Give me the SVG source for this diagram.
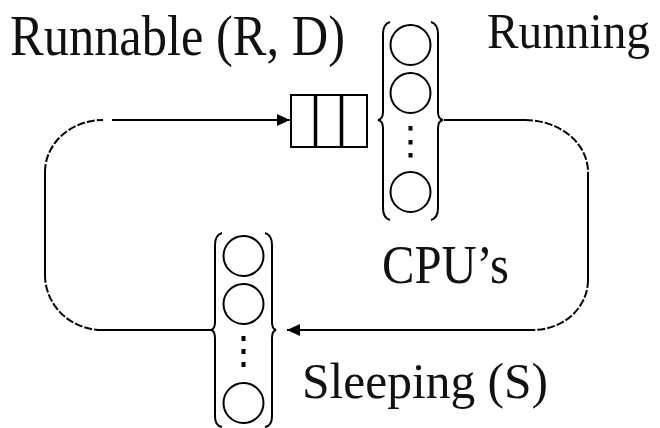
<svg xmlns="http://www.w3.org/2000/svg" width="660" height="428" viewBox="0 0 660 428">
<style>
  .ln{fill:none;stroke:#000;stroke-width:2}
  .arc{fill:none;stroke:#000;stroke-width:2;stroke-dasharray:8 2}
  .br{fill:none;stroke:#000;stroke-width:2}
  .cir{fill:#fff;stroke:#000;stroke-width:2}
  .dot{fill:#000}
  .box{fill:#fff;stroke:#000;stroke-width:2}
  .div{stroke:#000;stroke-width:3.5}
  .t{font-family:"Liberation Serif","Times New Roman",serif;fill:#111}
</style>
<defs>
  <marker id="ah" markerWidth="14" markerHeight="12" refX="13" refY="6" orient="auto" markerUnits="userSpaceOnUse">
    <path d="M0,0 L13,6 L0,12 Z" fill="#000"/>
  </marker>
</defs>
<rect width="660" height="428" fill="#fff"/>

<g id="connectors">
  <g id="cpu-to-sleeping">
    <path class="ln" d="M444,120 L525,120"/>
    <path class="arc" d="M525,120 A63,52 0 0 1 588,172"/>
    <path class="ln" d="M588,172 L588,280"/>
    <path class="arc" d="M588,280 A55,50 0 0 1 533,330"/>
    <path class="ln" d="M533,330 L287,330" marker-end="url(#ah)"/>
  </g>
  <g id="sleeping-to-runnable">
    <path class="ln" d="M211,330 L102,330"/>
    <path class="arc" d="M102,330 A57,55 0 0 1 45,275"/>
    <path class="ln" d="M45,275 L45,172"/>
    <path class="arc" d="M45,172 A58,52 0 0 1 103,120"/>
    <path class="ln" d="M112,120 L290,120" marker-end="url(#ah)"/>
  </g>
</g>

<g id="runnable-queue">
  <rect class="box" x="291" y="95" width="76" height="52"/>
  <line class="div" x1="315.5" y1="95" x2="315.5" y2="147"/>
  <line class="div" x1="341.5" y1="95" x2="341.5" y2="147"/>
</g>

<g id="cpus">
  <path class="br" d="M390,22 Q383,24 383,34 L383,112 Q383,119 378,120 Q383,121 383,128 L383,208 Q383,218 390,220"/>
  <path class="br" d="M431,22 Q438,24 438,34 L438,112 Q438,119 443,120 Q438,121 438,128 L438,208 Q438,218 431,220"/>
  <circle class="cir" cx="410.5" cy="45" r="20"/>
  <circle class="cir" cx="410.5" cy="93" r="20"/>
  <rect class="dot" x="408.5" y="126" width="4" height="4.5"/>
  <rect class="dot" x="408.5" y="140" width="4" height="4.5"/>
  <rect class="dot" x="408.5" y="153" width="4" height="4.5"/>
  <circle class="cir" cx="410.5" cy="192" r="20"/>
</g>

<g id="sleeping">
  <path class="br" d="M222,233 Q215,235 215,245 L215,322 Q215,329 211,330 Q215,331 215,338 L215,416 Q215,426 222,427"/>
  <path class="br" d="M265,233 Q272,235 272,245 L272,322 Q272,329 276,330 Q272,331 272,338 L272,416 Q272,426 265,427"/>
  <circle class="cir" cx="243.5" cy="256" r="20"/>
  <circle class="cir" cx="243.5" cy="304" r="20"/>
  <rect class="dot" x="241.5" y="336" width="4" height="5"/>
  <rect class="dot" x="241.5" y="349" width="4" height="5"/>
  <rect class="dot" x="241.5" y="362" width="4" height="5"/>
  <circle class="cir" cx="243.5" cy="403" r="20"/>
</g>

<g id="labels">
  <text class="t" x="10" y="55" font-size="56" textLength="335" lengthAdjust="spacingAndGlyphs">Runnable (R, D)</text>
  <text class="t" x="487" y="48" font-size="50" textLength="163" lengthAdjust="spacingAndGlyphs">Running</text>
  <text class="t" x="382" y="283" font-size="54" textLength="127" lengthAdjust="spacingAndGlyphs">CPU’s</text>
  <text class="t" x="302" y="398" font-size="50" textLength="246" lengthAdjust="spacingAndGlyphs">Sleeping (S)</text>
</g>
</svg>
